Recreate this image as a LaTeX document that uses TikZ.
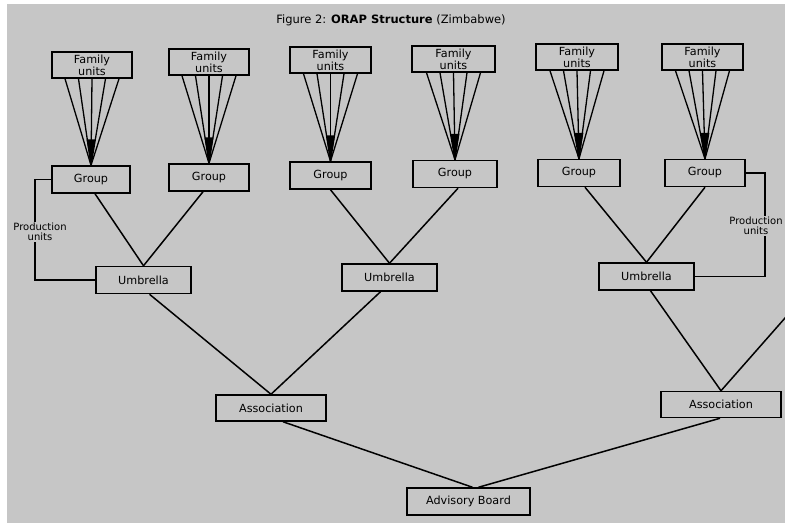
\documentclass[tikz,border=0pt]{standalone}
\usepackage{fontspec}
\setmainfont{DejaVu Sans}
\usetikzlibrary{calc}
\definecolor{paper}{RGB}{198,198,198}
\begin{document}
\begin{tikzpicture}[x=1pt,y=-1pt,
  box/.style={draw=black, line width=1.5pt, fill=paper, inner sep=0pt,
    minimum height=27pt, align=center, font=\fontsize{11.2}{10.5}\selectfont},
  link/.style={line width=1.5pt, draw=black},
  fanline/.style={line width=1.3pt, draw=black},
  plabel/.style={fill=paper, inner sep=1pt, align=center, font=\fontsize{10}{10.5}\selectfont}]
\useasboundingbox (0,0) rectangle (785,523);
\fill[white] (0,0) rectangle (785,523);
\fill[paper] (7,4) rectangle (785,523);
\clip (0,0) rectangle (785,523);

\node (title) at (391,20) {\fontsize{11.5}{13}\selectfont Figure 2: \textbf{ORAP Structure} (Zimbabwe)};

% family units
\node[box, minimum width=80pt, minimum height=26pt] (f1) at (92,65)    {Family\\units};
\node[box, minimum width=80pt, minimum height=26pt] (f2) at (209,62)   {Family\\units};
\node[box, minimum width=81pt, minimum height=26pt] (f3) at (330.5,60) {Family\\units};
\node[box, minimum width=83pt, minimum height=26pt] (f4) at (453.5,59) {Family\\units};
\node[box, minimum width=82pt, minimum height=26pt] (f5) at (577,57)   {Family\\units};
\node[box, minimum width=81pt, minimum height=26pt] (f6) at (702.5,57) {Family\\units};

% groups
\node[box, minimum width=78pt] (g1) at (91,179.5)  {Group};
\node[box, minimum width=80pt] (g2) at (209,177.5) {Group};
\node[box, minimum width=81pt] (g3) at (330.5,175.5) {Group};
\node[box, minimum width=84pt] (g4) at (455,174)   {Group};
\node[box, minimum width=82pt] (g5) at (579,173)   {Group};
\node[box, minimum width=80pt] (g6) at (705,173)   {Group};

% umbrellas
\node[box, minimum width=95pt] (u1) at (143.5,280)  {Umbrella};
\node[box, minimum width=95pt] (u2) at (389.5,277.5) {Umbrella};
\node[box, minimum width=95pt] (u3) at (646.5,276.5) {Umbrella};

% associations
\node[box, minimum width=110pt, minimum height=26pt] (a1) at (271,408)   {Association};
\node[box, minimum width=120pt, minimum height=26pt] (a2) at (721,404.5) {Association};

% advisory board
\node[box, minimum width=123pt] (b) at (468.5,501.5) {Advisory Board};

% production unit labels
\node[plabel] (p1) at (40,232) {Production\\units};
\node[plabel] (p2) at (756,226) {Production\\units};

% fans
\foreach \i in {1,...,6} {
  \foreach \d in {-27,-13.5,0,13.5,27}
    \draw[fanline] ($(f\i.south)+(\d,0)$) -- (g\i.north);
  \fill[black] ($(g\i.north)+(-4.5,-26)$) -- ($(g\i.north)+(4.5,-26)$) -- (g\i.north) -- cycle;
}

% groups to umbrellas
\draw[link] ($(g1.south)+(4,0)$) -- (u1.north);
\draw[link] ($(g2.south)+(-6,0)$) -- (u1.north);
\draw[link] (g3.south) -- (u2.north);
\draw[link] ($(g4.south)+(3,0)$) -- (u2.north);
\draw[link] ($(g5.south)+(6,0)$) -- (u3.north);
\draw[link] (g6.south) -- (u3.north);

% production units connectors
\draw[link] (g1.west) -| ($(p1.north)+(-5,0)$);
\draw[link] ($(p1.south)+(-5,0)$) |- (u1.west);
\draw[link] (g6.east) -| ($(p2.north)+(9,0)$);
\draw[link] ($(p2.south)+(9,0)$) |- (u3.east);

% umbrellas to associations
\draw[link] ($(u1.south)+(6,0)$) -- (a1.north);
\draw[link] ($(u2.south)+(-9,0)$) -- (a1.north);
\draw[link] ($(u3.south)+(4,0)$) -- (a2.north);
\coordinate (off) at (800,301);
\draw[link] (a2.north) -- (off);

% associations to board
\draw[link] ($(a1.south)+(12,0)$) -- ($(b.north)+(4,0)$);
\draw[link] ($(a2.south)+(-1,0)$) -- ($(b.north)+(10,0)$);
\end{tikzpicture}
\end{document}
